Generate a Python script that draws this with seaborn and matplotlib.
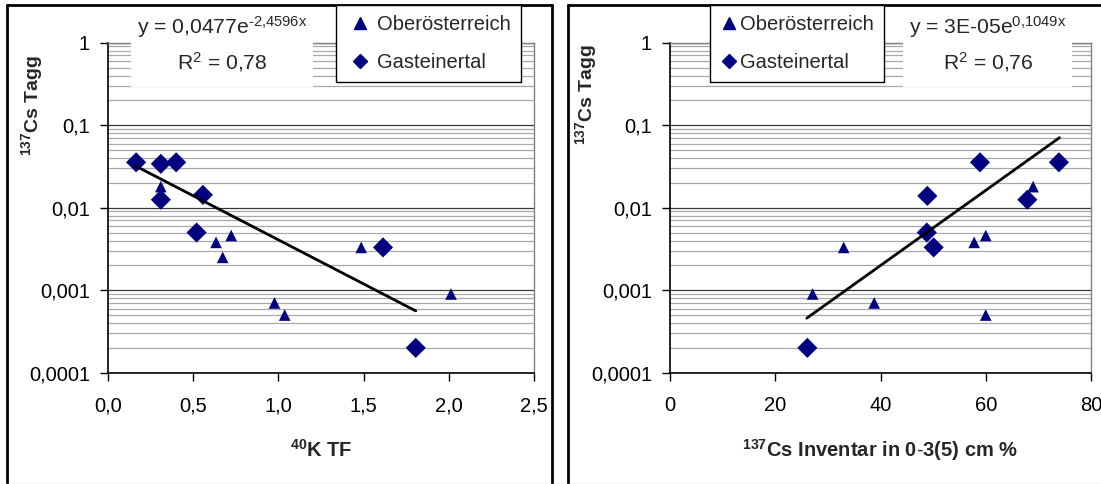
import numpy as np
import pandas as pd
import seaborn as sns
import matplotlib
matplotlib.use("Agg")
import matplotlib.pyplot as plt
from matplotlib.lines import Line2D
from matplotlib.patches import Rectangle
from matplotlib.ticker import FixedLocator, FixedFormatter, LogLocator, NullFormatter

sns.set_style("white")
plt.rcParams["font.family"] = ["Liberation Sans", "DejaVu Sans"]
plt.rcParams["mathtext.fontset"] = "custom"
plt.rcParams["mathtext.rm"] = "Liberation Sans"
plt.rcParams["mathtext.it"] = "Liberation Sans"
plt.rcParams["mathtext.bf"] = "Liberation Sans:bold"
plt.rcParams["mathtext.default"] = "regular"

# ---- data -------------------------------------------------------------
groups = ["Oberösterreich", "Gasteinertal"]

# 40K transfer factor vs. 137Cs Tagg
ktf_ober = [0.31, 0.634, 0.723, 0.673, 0.977, 1.037, 1.486, 2.013]
tagg_ober_k = [0.018, 0.0038, 0.0046, 0.0025, 0.0007, 0.0005, 0.0033, 0.0009]
ktf_gast = [0.165, 0.31, 0.40, 0.31, 0.557, 0.52, 1.614, 1.806]
tagg_gast_k = [0.0355, 0.034, 0.0355, 0.0125, 0.0143, 0.005, 0.0033, 0.0002]

# 137Cs inventory in 0-3(5) cm vs. 137Cs Tagg
inv_ober = [27.1, 33.0, 38.8, 57.8, 60.0, 60.0, 69.0]
tagg_ober_i = [0.0009, 0.0033, 0.0007, 0.0038, 0.0046, 0.0005, 0.018]
inv_gast = [58.9, 73.9, 48.9, 67.9, 48.8, 50.1, 26.1]
tagg_gast_i = [0.0355, 0.0355, 0.0139, 0.0125, 0.005, 0.0033, 0.0002]

# exponential trend lines  y = a * exp(b x)
trend_k = {"a": 0.0477, "b": -2.4596, "x0": 0.165, "x1": 1.806}
trend_i = {"a": 3e-05, "b": 0.1049, "x0": 26.0, "x1": 74.0}

ytick_vals = [0.0001, 0.001, 0.01, 0.1, 1]
ytick_labels = ["0,0001", "0,001", "0,01", "0,1", "1"]
xtick_vals_k = [0.0, 0.5, 1.0, 1.5, 2.0, 2.5]
xtick_labels_k = ["0,0", "0,5", "1,0", "1,5", "2,0", "2,5"]
xtick_vals_i = [0, 20, 40, 60, 80]
xtick_labels_i = ["0", "20", "40", "60", "80"]

eq_k = [r"y = 0,0477e$^{\text{-}2{,}4596x}$", r"R$^{2}$ = 0,78"]
eq_i = [r"y = 3E-05e$^{0{,}1049x}$", r"R$^{2}$ = 0,76"]

NAVY = "#000080"
W, H = 1101, 484
FS = 14.5


def fx(px):
    return px / W


def fy(py):
    return 1 - py / H


fig = plt.figure(figsize=(W / 100, H / 100), dpi=100)

ax1 = fig.add_axes([fx(108), fy(372.7), (534 - 108) / W, 330 / H])
ax2 = fig.add_axes([fx(670), fy(372.7), (1091 - 670) / W, 330 / H])

df_k = pd.DataFrame({
    "x": ktf_ober + ktf_gast,
    "y": tagg_ober_k + tagg_gast_k,
    "Region": [groups[0]] * len(ktf_ober) + [groups[1]] * len(ktf_gast),
})
df_i = pd.DataFrame({
    "x": inv_ober + inv_gast,
    "y": tagg_ober_i + tagg_gast_i,
    "Region": [groups[0]] * len(inv_ober) + [groups[1]] * len(inv_gast),
})

for ax, df, tr, xv, xl, xlim in [
    (ax1, df_k, trend_k, xtick_vals_k, xtick_labels_k, (0, 2.5)),
    (ax2, df_i, trend_i, xtick_vals_i, xtick_labels_i, (0, 80)),
]:
    ax.set_yscale("log")
    sns.scatterplot(
        data=df, x="x", y="y", style="Region", size="Region",
        markers={groups[0]: "^", groups[1]: "D"},
        sizes={groups[0]: 70, groups[1]: 105},
        color=NAVY, edgecolor="none", linewidth=0, legend=False,
        ax=ax, zorder=3,
    )
    xs = np.linspace(tr["x0"], tr["x1"], 60)
    sns.lineplot(x=xs, y=tr["a"] * np.exp(tr["b"] * xs), color="black",
                 linewidth=2.0, ax=ax, zorder=4)
    ax.set_xlim(*xlim)
    ax.set_ylim(1e-4, 1)
    ax.set_axisbelow(True)
    ax.yaxis.set_major_locator(FixedLocator(ytick_vals))
    ax.yaxis.set_major_formatter(FixedFormatter(ytick_labels))
    ax.yaxis.set_minor_locator(LogLocator(base=10, subs=range(2, 10)))
    ax.yaxis.set_minor_formatter(NullFormatter())
    ax.xaxis.set_major_locator(FixedLocator(xv))
    ax.xaxis.set_major_formatter(FixedFormatter(xl))
    ax.yaxis.grid(True, which="major", color="#383838", linewidth=0.9)
    ax.yaxis.grid(True, which="minor", color="#a8a8a8", linewidth=0.9)
    ax.xaxis.grid(False)
    ax.tick_params(axis="both", which="major", direction="out", length=6,
                   width=1, color="black", labelsize=FS, labelcolor="black")
    ax.tick_params(axis="y", which="major", pad=7)
    ax.tick_params(axis="x", which="major", pad=11)
    ax.tick_params(axis="both", which="minor", length=0)
    ax.tick_params(left=True, bottom=True)
    for side in ("left", "bottom"):
        ax.spines[side].set_color("black")
        ax.spines[side].set_linewidth(1.2)
    for side in ("top", "right"):
        ax.spines[side].set_color("#808080")
        ax.spines[side].set_linewidth(1.0)

ax1.set_xlabel(r"$\mathbf{^{40}K\ TF}$", fontsize=FS)
ax2.set_xlabel(r"$\mathbf{^{137}Cs\ Inventar\ in\ 0\text{-}3(5)\ cm\ \%}$", fontsize=FS)
ax1.set_ylabel(r"$\mathbf{^{137}Cs\ Tagg}$", fontsize=14)
ax2.set_ylabel(r"$\mathbf{^{137}Cs\ Tagg}$", fontsize=14)
for ax, ylx, yly in [(ax1, (32 - 108) / 426, (372.7 - 106) / 330),
                     (ax2, (586 - 670) / 421, (372.7 - 95) / 330)]:
    ax.xaxis.set_label_coords(0.5, -(450 - 372.7) / 330)
    ax.xaxis.label.set_verticalalignment("center")
    ax.yaxis.set_label_coords(ylx, yly)
    ax.yaxis.label.set_verticalalignment("center")

# outer chart frames
frame_kw = dict(color="black", linewidth=2.0, transform=fig.transFigure)
fig.add_artist(Line2D([fx(7), fx(7)], [fy(5), fy(484)], **frame_kw))
fig.add_artist(Line2D([fx(7), fx(552)], [fy(5), fy(5)], **frame_kw))
fig.add_artist(Line2D([fx(552), fx(552)], [fy(5), fy(484)], **frame_kw))
fig.add_artist(Line2D([fx(568), fx(568)], [fy(5), fy(484)], **frame_kw))
fig.add_artist(Line2D([fx(568), fx(1101)], [fy(5), fy(5)], **frame_kw))
fig.add_artist(Line2D([0, 1], [fy(483.5), fy(483.5)], color="#d0d0d0",
                      linewidth=1.0, transform=fig.transFigure))

# trend-line equation labels on white boxes
for (x0, x1, cx), lines in [((131, 313, 222), eq_k), ((903, 1072, 988), eq_i)]:
    fig.add_artist(Rectangle((fx(x0), fy(87)), (x1 - x0) / W, 80 / H,
                             facecolor="white", edgecolor="none",
                             transform=fig.transFigure, zorder=5))
    fig.text(fx(cx), fy(27), lines[0], ha="center", va="center",
             fontsize=15.2, zorder=6)
    fig.text(fx(cx), fy(62), lines[1], ha="center", va="center",
             fontsize=15.2, zorder=6)

# legends
handles = [
    Line2D([], [], marker="^", linestyle="none", color=NAVY, markersize=8),
    Line2D([], [], marker="D", linestyle="none", color=NAVY, markersize=7.5),
]
for lx, hl in [(336, 1.4), (710, 0.85)]:
    leg = fig.legend(handles, groups, loc="upper left",
                     bbox_to_anchor=(fx(lx), fy(5)), frameon=True,
                     fancybox=False, edgecolor="black", facecolor="white",
                     framealpha=1, fontsize=FS, handlelength=hl,
                     handletextpad=0.15, borderpad=0.5, labelspacing=0.95,
                     borderaxespad=0)
    leg.get_frame().set_linewidth(1.0)
    leg.set_zorder(7)

fig.savefig("out.png", dpi=100, facecolor="white")
